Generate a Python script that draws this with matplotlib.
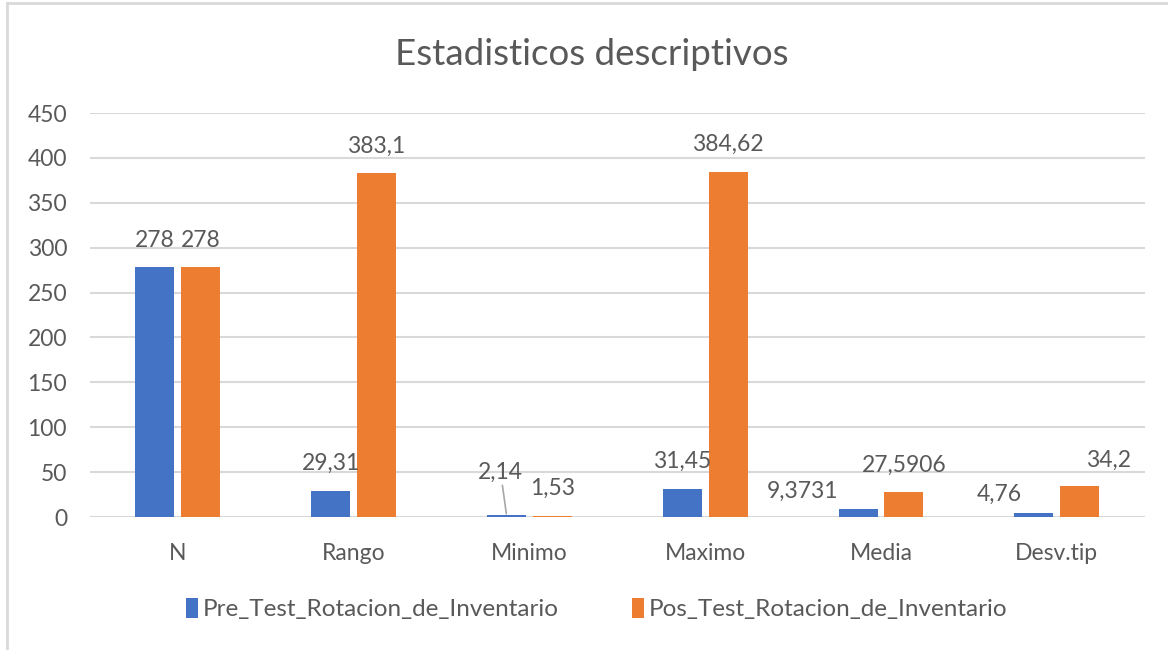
import numpy as np
import matplotlib.pyplot as plt
from matplotlib.lines import Line2D

# datos del grafico
categorias = ['N', 'Rango', 'Minimo', 'Maximo', 'Media', 'Desv.tip']
pre_test = [278, 29.31, 2.14, 31.45, 9.3731, 4.76]
pos_test = [278, 383.1, 1.53, 384.62, 27.5906, 34.2]
etiquetas_pre = ['278', '29,31', '2,14', '31,45', '9,3731', '4,76']
etiquetas_pos = ['278', '383,1', '1,53', '384,62', '27,5906', '34,2']
series = ['Pre_Test_Rotacion_de_Inventario', 'Pos_Test_Rotacion_de_Inventario']

azul = '#4472C4'
naranja = '#ED7D31'
gris_txt = '#595959'
gris_lin = '#D9D9D9'
fs = 16.5

plt.rcParams['font.family'] = ['Lato', 'DejaVu Sans']

fig = plt.figure(figsize=(11.68, 6.5), dpi=100, facecolor='w')
ax = fig.add_axes([0.077, 0.2046, 0.903, 0.6215])

x = np.arange(len(categorias))
ancho = 0.222
b1 = ax.bar(x - 0.13, pre_test, ancho, color=azul, label=series[0], zorder=3)
b2 = ax.bar(x + 0.13, pos_test, ancho, color=naranja, label=series[1], zorder=3)

ax.set_xlim(-0.5, len(categorias) - 0.5)
ax.set_ylim(0, 450)
ax.set_yticks(np.arange(0, 451, 50))
ax.set_xticks(x)
ax.set_xticklabels(categorias)
ax.tick_params(axis='both', length=0, labelsize=fs, colors=gris_txt)
ax.tick_params(axis='y', pad=16.5)
ax.tick_params(axis='x', pad=19)
ax.grid(axis='y', color=gris_lin, lw=1.5, zorder=0)
for s in ax.spines.values():
    s.set_visible(False)

# etiquetas de datos (algunas movidas a mano como en el original)
desp_pre = [(0, 27), (0, 27), (-6, 43), (0, 27), (-56, 17), (-35, 18)]
desp_pos = [(0, 27), (0, 27), (0, 27), (0, 27), (0, 27), (29, 26)]
for i in range(len(categorias)):
    dx, dy = desp_pre[i]
    flecha = dict(arrowstyle='-', color='#A6A6A6', lw=1.2, shrinkA=0, shrinkB=1) if i == 2 else None
    ax.annotate(etiquetas_pre[i], (x[i] - 0.13, pre_test[i]), xytext=(dx, dy),
                textcoords='offset pixels', ha='center', va='center',
                fontsize=fs, color=gris_txt, arrowprops=flecha, zorder=4)
    dx, dy = desp_pos[i]
    ax.annotate(etiquetas_pos[i], (x[i] + 0.13, pos_test[i]), xytext=(dx, dy),
                textcoords='offset pixels', ha='center', va='center',
                fontsize=fs, color=gris_txt, zorder=4)

fig.text(0.507, 0.916, 'Estadisticos descriptivos', ha='center', va='center',
         fontsize=26.5, color=gris_txt)

fig.legend(handles=[b1, b2], loc='center', bbox_to_anchor=(0.511, 0.063), ncol=2,
           frameon=False, fontsize=17.5, labelcolor=gris_txt, handlelength=0.5,
           handleheight=0.9, handletextpad=0.2, columnspacing=3.0)

# borde del grafico
fig.add_artist(Line2D([0.006, 0.006], [0, 0.995], color=gris_lin, lw=2))
fig.add_artist(Line2D([0.006, 1.0], [0.995, 0.995], color=gris_lin, lw=2))

fig.savefig('out.png', dpi=100, facecolor='w')
